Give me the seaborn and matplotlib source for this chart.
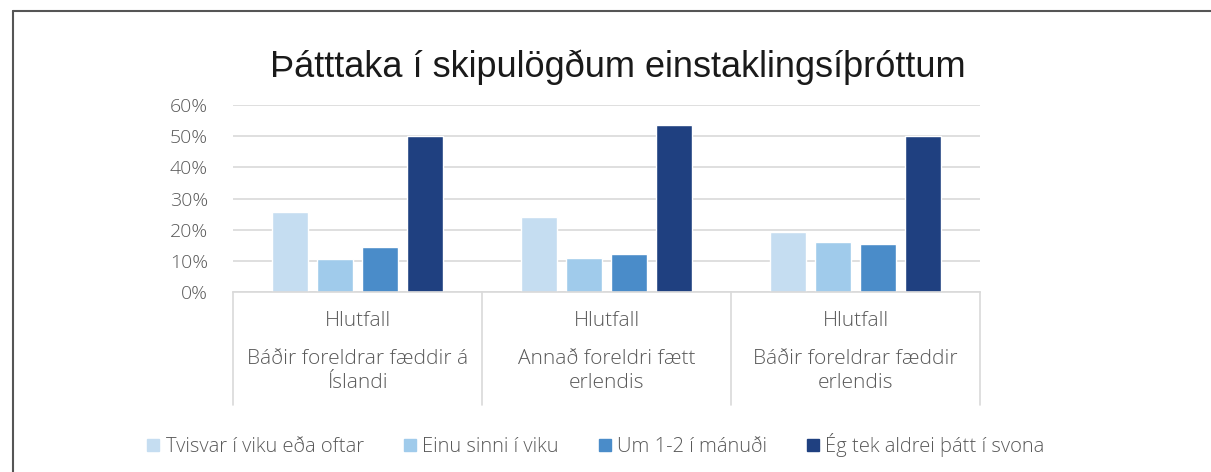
import pandas as pd
import matplotlib.pyplot as plt
import matplotlib.lines as mlines
import seaborn as sns

# data
groups = ["Báðir foreldrar fæddir á\nÍslandi", "Annað foreldri fætt\nerlendis", "Báðir foreldrar fæddir\nerlendis"]
series = ["Tvisvar í viku eða oftar", "Einu sinni í viku", "Um 1-2 í mánuði", "Ég tek aldrei þátt í svona"]
twice_week = [25.7, 24.1, 19.2]
once_week = [10.6, 10.9, 16.0]
monthly = [14.3, 12.1, 15.3]
never = [50.0, 53.6, 50.0]
colors = ["#c5ddf1", "#a0cbeb", "#4a8cc9", "#1f4080"]
yticks = [0, 10, 20, 30, 40, 50, 60]

rows = []
for s, vals in zip(series, [twice_week, once_week, monthly, never]):
    for g, v in zip(groups, vals):
        rows.append({"group": g, "series": s, "value": v})
df = pd.DataFrame(rows)

sns.set_theme(style="white")
plt.rcParams["font.family"] = ["Open Sans", "DejaVu Sans"]

W, H = 1211, 472
fig = plt.figure(figsize=(W / 100, H / 100), dpi=100)
ax = fig.add_axes([233 / W, (H - 292) / H, (980 - 233) / W, (292 - 105) / H])

sns.barplot(data=df, x="group", y="value", hue="series", order=groups, hue_order=series,
            palette=colors, width=0.72, gap=0.2, ax=ax, legend=False, saturation=1)

ax.set_xlim(-0.5, 2.5)
ax.set_ylim(0, 60)
ax.set_yticks(yticks)
ax.set_yticklabels([f"{t}%" for t in yticks], color="#595959", fontsize=14, fontweight="light")
ax.tick_params(axis="y", length=0, pad=18)
ax.set_xticks([])
ax.set_xlabel("")
ax.set_ylabel("")
ax.grid(axis="y", color="#d9d9d9", linewidth=1.2)
ax.set_axisbelow(True)
for side in ["top", "right", "left"]:
    ax.spines[side].set_visible(False)
ax.spines["bottom"].set_color("#d9d9d9")
ax.spines["bottom"].set_linewidth(1.2)

# category label table under the axis
trans = ax.get_xaxis_transform()
depth = -(405 - 292) / (292 - 105)
for xpos in [-0.5, 0.5, 1.5, 2.5]:
    ax.plot([xpos, xpos], [0, depth], transform=trans, color="#d9d9d9", lw=1.2, clip_on=False)
for i, g in enumerate(groups):
    ax.text(i, -(321 - 292) / 187, "Hlutfall", transform=trans, ha="center", va="center",
            color="#595959", fontsize=15, fontweight="light")
    ax.text(i, -(349 - 292) / 187, g, transform=trans, ha="center", va="top",
            color="#595959", fontsize=15, fontweight="light", linespacing=1.3)

fig.text(618 / W, 1 - 67 / H, "Þátttaka í skipulögðum einstaklingsíþróttum",
         ha="center", va="center", fontsize=26, color="#1a1a1a", family="Liberation Sans")

handles = [plt.Rectangle((0, 0), 1, 1, color=c) for c in colors]
fig.legend(handles, series, loc="center", bbox_to_anchor=(596 / W, 1 - 445 / H), ncol=4,
           frameon=False, handlelength=0.6, handleheight=0.6, handletextpad=0.3,
           columnspacing=2.0, labelcolor="#595959", prop={"weight": "light", "size": 14.5})

# frame lines of the original screenshot
fig.add_artist(mlines.Line2D([13 / W, 1], [1 - 11 / H, 1 - 11 / H], color="#555555", lw=1.5))
fig.add_artist(mlines.Line2D([13 / W, 13 / W], [0, 1 - 11 / H], color="#555555", lw=1.5))

fig.savefig("out.png", dpi=100)
